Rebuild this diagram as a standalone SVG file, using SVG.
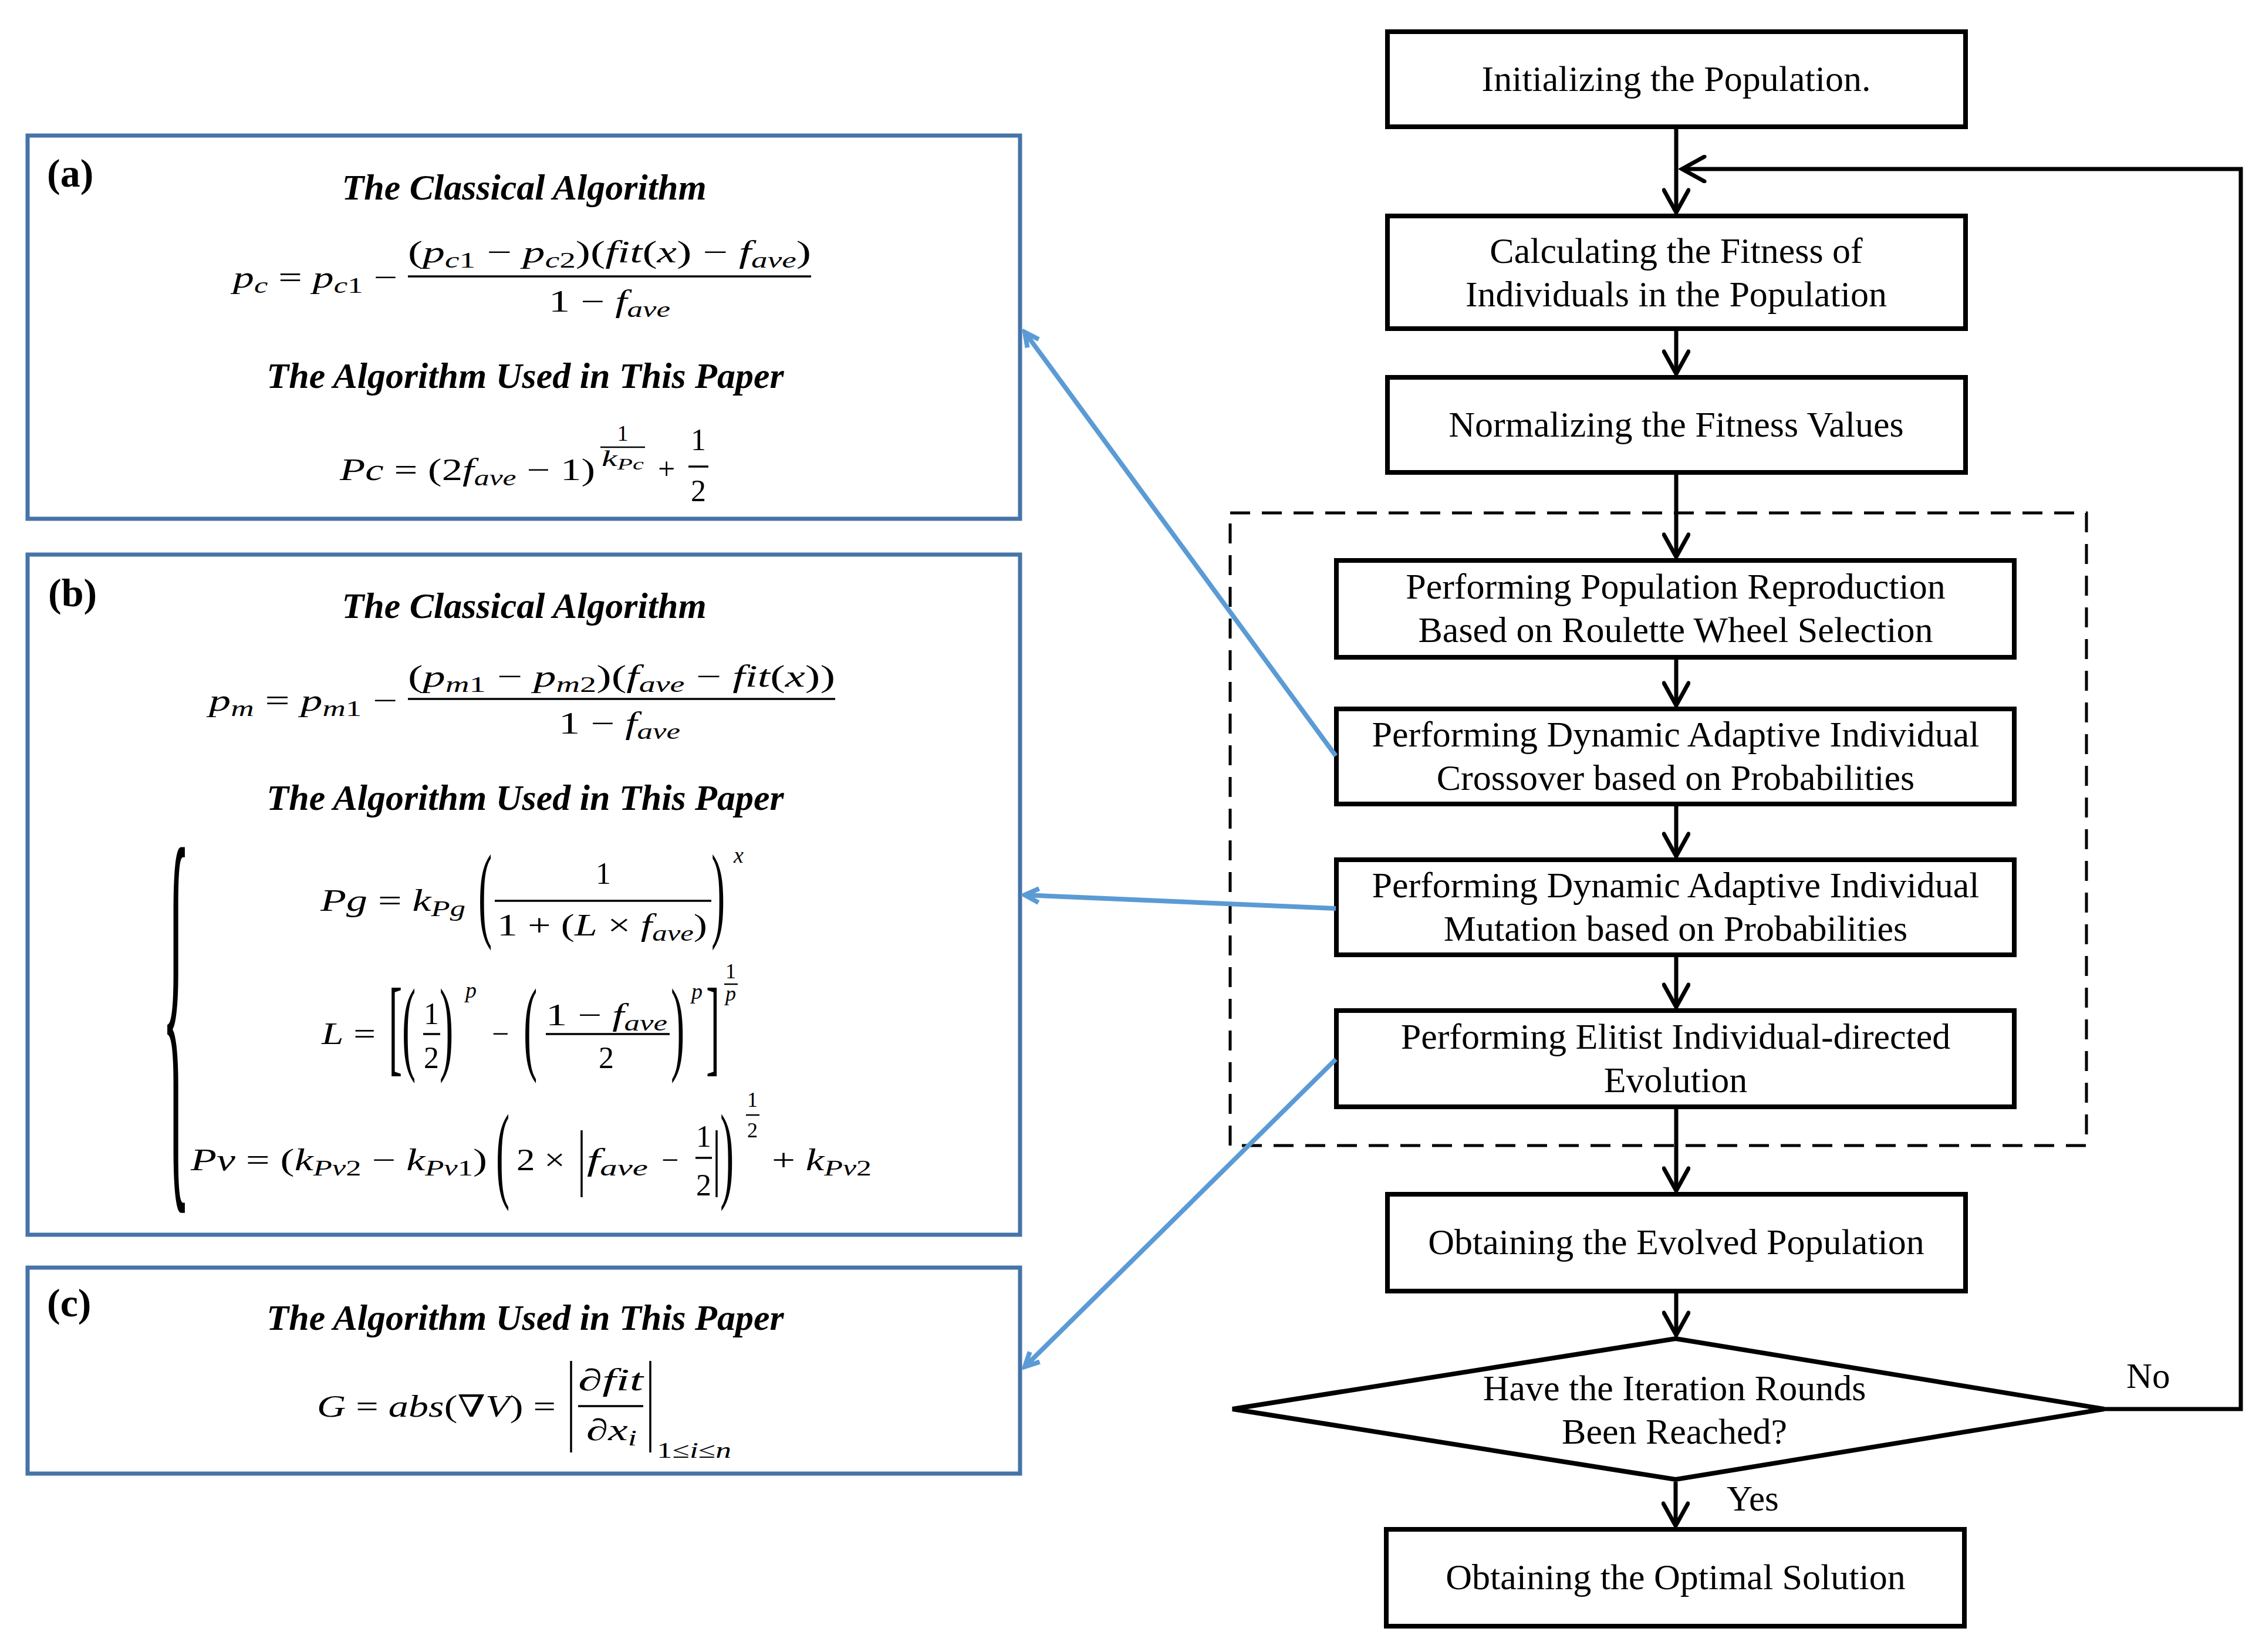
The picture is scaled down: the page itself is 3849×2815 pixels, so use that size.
<svg xmlns="http://www.w3.org/2000/svg" width="3849" height="2815" viewBox="0 0 3849 2815">
<style>
.box{fill:#fff;stroke:#000;stroke-width:8}
.pbox{fill:#fff;stroke:#4674a8;stroke-width:7}
.dash{fill:none;stroke:#000;stroke-width:5;stroke-dasharray:34 20}
.t{font-family:"Liberation Serif","Times New Roman",serif;font-size:62px;fill:#000;text-anchor:middle}
.tl{font-family:"Liberation Serif","Times New Roman",serif;font-size:61px;fill:#000}
.h{font-family:"Liberation Serif","Times New Roman",serif;font-size:62px;font-weight:bold;font-style:italic;text-anchor:middle}
.lbl{font-family:"Liberation Serif","Times New Roman",serif;font-size:68px;font-weight:bold}
.m{font-family:"Liberation Serif","DejaVu Serif",serif;font-size:52px;fill:#000}
.mc{text-anchor:middle}
.i{font-style:italic}
.s{font-size:38px}
.ss{font-size:27px}
.e{font-size:38px}
.x32{font-size:36px}
.d{font-family:"Liberation Serif","DejaVu Serif",serif;font-size:70px}
.brace{font-family:"Liberation Serif","DejaVu Serif",serif;font-size:100px}
.bar{stroke:#000;stroke-width:3.5}
.sbar{stroke:#000;stroke-width:2.5}
.c{fill:none;stroke:#000;stroke-width:7}
.bl{fill:none;stroke:#5b9bd5;stroke-width:8}
</style>
<defs>
<marker id="ah" markerUnits="userSpaceOnUse" viewBox="0 0 48 48" refX="42" refY="24" markerWidth="48" markerHeight="48" orient="auto">
<path d="M4,3 L42,24 L4,45" fill="none" stroke="#000" stroke-width="7" stroke-linecap="round"/>
</marker>
<marker id="bh" markerUnits="userSpaceOnUse" viewBox="0 0 36 36" refX="30" refY="18" markerWidth="36" markerHeight="36" orient="auto">
<path d="M6,6 L30,18 L6,30" fill="none" stroke="#5b9bd5" stroke-width="8"/>
</marker>
</defs>
<rect width="3849" height="2815" fill="#fff"/>

<g id="panel-a">
<rect class="pbox" x="47" y="231" width="1691" height="653"/>
<text class="lbl" x="80" y="318">(a)</text>
<text class="h" x="893" y="340">The Classical Algorithm</text>
<text class="m" x="397" y="490" textLength="280" lengthAdjust="spacingAndGlyphs"><tspan class="i">p</tspan><tspan class="s i" dy="9">c</tspan><tspan dy="-9"> = </tspan><tspan class="i">p</tspan><tspan class="s" dy="9"><tspan class="i">c</tspan>1</tspan><tspan dy="-9"> −</tspan></text>
<text class="m" x="695" y="447" textLength="687" lengthAdjust="spacingAndGlyphs">(<tspan class="i">p</tspan><tspan class="s" dy="9"><tspan class="i">c</tspan>1</tspan><tspan dy="-9"> − </tspan><tspan class="i">p</tspan><tspan class="s" dy="9"><tspan class="i">c</tspan>2</tspan><tspan dy="-9">)(</tspan><tspan class="i">fit</tspan>(<tspan class="i">x</tspan>) − <tspan class="i">f</tspan><tspan class="s i" dy="9">ave</tspan><tspan dy="-9">)</tspan></text>
<line class="bar" x1="695" y1="471" x2="1382" y2="471"/>
<text class="m" x="935" y="531" textLength="207" lengthAdjust="spacingAndGlyphs">1 − <tspan class="i">f</tspan><tspan class="s i" dy="9">ave</tspan></text>
<text class="h" x="895" y="661">The Algorithm Used in This Paper</text>
<text class="m" x="579" y="818" textLength="435" lengthAdjust="spacingAndGlyphs"><tspan class="i">Pc</tspan> = (2<tspan class="i">f</tspan><tspan class="s i" dy="9">ave</tspan><tspan dy="-9"> − 1)</tspan></text>
<text class="m e mc" x="1061" y="751">1</text>
<line class="sbar" x1="1023" y1="762" x2="1099" y2="762"/>
<text class="m e" x="1025" y="794" textLength="72" lengthAdjust="spacingAndGlyphs"><tspan class="i">k</tspan><tspan class="ss i" dy="6">Pc</tspan></text>
<text class="m" x="1121" y="816">+</text>
<text class="m mc" x="1190" y="767">1</text>
<line class="bar" x1="1173" y1="795" x2="1207" y2="795"/>
<text class="m mc" x="1190" y="854">2</text>
</g>

<g id="panel-b">
<rect class="pbox" x="47" y="945" width="1691" height="1159"/>
<text class="lbl" x="82" y="1033">(b)</text>
<text class="h" x="893" y="1053">The Classical Algorithm</text>
<text class="m" x="356" y="1211" textLength="321" lengthAdjust="spacingAndGlyphs"><tspan class="i">p</tspan><tspan class="s i" dy="9">m</tspan><tspan dy="-9"> = </tspan><tspan class="i">p</tspan><tspan class="s" dy="9"><tspan class="i">m</tspan>1</tspan><tspan dy="-9"> −</tspan></text>
<text class="m" x="695" y="1170" textLength="728" lengthAdjust="spacingAndGlyphs">(<tspan class="i">p</tspan><tspan class="s" dy="9"><tspan class="i">m</tspan>1</tspan><tspan dy="-9"> − </tspan><tspan class="i">p</tspan><tspan class="s" dy="9"><tspan class="i">m</tspan>2</tspan><tspan dy="-9">)(</tspan><tspan class="i">f</tspan><tspan class="s i" dy="9">ave</tspan><tspan dy="-9"> − </tspan><tspan class="i">fit</tspan>(<tspan class="i">x</tspan>))</text>
<line class="bar" x1="695" y1="1191" x2="1423" y2="1191"/>
<text class="m" x="952" y="1250" textLength="207" lengthAdjust="spacingAndGlyphs">1 − <tspan class="i">f</tspan><tspan class="s i" dy="9">ave</tspan></text>
<text class="h" x="895" y="1380">The Algorithm Used in This Paper</text>
<text class="brace" transform="translate(276,1966) scale(1,7.53)">{</text>
<text class="m" x="546" y="1552" textLength="247" lengthAdjust="spacingAndGlyphs"><tspan class="i">Pg</tspan> = <tspan class="i">k</tspan><tspan class="s i" dy="9">Pg</tspan></text>
<text class="d" transform="translate(815,1581) scale(1,2.56)">(</text>
<text class="m mc" x="1028" y="1506">1</text>
<line class="bar" x1="843" y1="1535" x2="1212" y2="1535"/>
<text class="m" x="847" y="1594" textLength="358" lengthAdjust="spacingAndGlyphs">1 + (<tspan class="i">L</tspan> × <tspan class="i">f</tspan><tspan class="s i" dy="9">ave</tspan><tspan dy="-9">)</tspan></text>
<text class="d" transform="translate(1212,1581) scale(1,2.56)">)</text>
<text class="m e i" x="1250" y="1470">x</text>
<text class="m" x="548" y="1779" textLength="92" lengthAdjust="spacingAndGlyphs"><tspan class="i">L</tspan> =</text>
<text class="d" transform="translate(662,1810) scale(1,2.6)">[</text>
<text class="d" transform="translate(685,1808) scale(1,2.55)">(</text>
<text class="m mc" x="735" y="1745">1</text>
<line class="bar" x1="721" y1="1762" x2="750" y2="1762"/>
<text class="m mc" x="735" y="1820">2</text>
<text class="d" transform="translate(749,1808) scale(1,2.55)">)</text>
<text class="m e i" x="793" y="1700">p</text>
<text class="m" x="838" y="1779">−</text>
<text class="d" transform="translate(892,1808) scale(1,2.55)">(</text>
<text class="m" x="930" y="1747" textLength="207" lengthAdjust="spacingAndGlyphs">1 − <tspan class="i">f</tspan><tspan class="s i" dy="9">ave</tspan></text>
<line class="bar" x1="930" y1="1762" x2="1141" y2="1762"/>
<text class="m mc" x="1033" y="1820">2</text>
<text class="d" transform="translate(1143,1808) scale(1,2.55)">)</text>
<text class="m e i" x="1178" y="1702">p</text>
<text class="d" transform="translate(1203,1810) scale(1,2.6)">]</text>
<text class="m mc x32" x="1245" y="1667">1</text>
<line class="sbar" x1="1234" y1="1677" x2="1257" y2="1677"/>
<text class="m mc i x32" x="1245" y="1705">p</text>
<text class="m" x="325" y="1994" textLength="505" lengthAdjust="spacingAndGlyphs"><tspan class="i">Pv</tspan> = (<tspan class="i">k</tspan><tspan class="s i" dy="9">Pv</tspan><tspan class="s">2</tspan><tspan dy="-9"> − </tspan><tspan class="i">k</tspan><tspan class="s i" dy="9">Pv</tspan><tspan class="s">1</tspan><tspan dy="-9">)</tspan></text>
<text class="d" transform="translate(845,2025) scale(1,2.6)">(</text>
<text class="m" x="880" y="1994" textLength="83" lengthAdjust="spacingAndGlyphs">2 ×</text>
<line class="bar" x1="991" y1="1926" x2="991" y2="2040"/>
<text class="m" x="1000" y="1994" textLength="104" lengthAdjust="spacingAndGlyphs"><tspan class="i">f</tspan><tspan class="s i" dy="9">ave</tspan></text>
<text class="m" x="1127" y="1994">−</text>
<text class="m mc" x="1199" y="1954">1</text>
<line class="bar" x1="1185" y1="1973" x2="1213" y2="1973"/>
<text class="m mc" x="1199" y="2037">2</text>
<line class="bar" x1="1221" y1="1926" x2="1221" y2="2040"/>
<text class="d" transform="translate(1227,2025) scale(1,2.6)">)</text>
<text class="m mc x32" x="1282" y="1886">1</text>
<line class="sbar" x1="1271" y1="1900" x2="1294" y2="1900"/>
<text class="m mc x32" x="1282" y="1938">2</text>
<text class="m" x="1315" y="1994" textLength="170" lengthAdjust="spacingAndGlyphs">+ <tspan class="i">k</tspan><tspan class="s i" dy="9">Pv</tspan><tspan class="s">2</tspan></text>
</g>

<g id="panel-c">
<rect class="pbox" x="47" y="2160" width="1691" height="351"/>
<text class="lbl" x="80" y="2243">(c)</text>
<text class="h" x="895" y="2266">The Algorithm Used in This Paper</text>
<text class="m" x="540" y="2414" textLength="407" lengthAdjust="spacingAndGlyphs"><tspan class="i">G</tspan> = <tspan class="i">abs</tspan>(∇<tspan class="i">V</tspan>) =</text>
<line class="bar" x1="973" y1="2319" x2="973" y2="2475"/>
<text class="m" x="985" y="2369" textLength="111" lengthAdjust="spacingAndGlyphs">∂<tspan class="i">fit</tspan></text>
<line class="bar" x1="985" y1="2396" x2="1096" y2="2396"/>
<text class="m" x="999" y="2454" textLength="86" lengthAdjust="spacingAndGlyphs">∂<tspan class="i">x</tspan><tspan class="s i" dy="9">i</tspan></text>
<line class="bar" x1="1108" y1="2319" x2="1108" y2="2475"/>
<text class="m e" x="1119" y="2484" textLength="127" lengthAdjust="spacingAndGlyphs">1≤<tspan class="i">i</tspan>≤<tspan class="i">n</tspan></text>
</g>

<g id="n1"><rect class="box" x="2364" y="54" width="985" height="162"/><text class="t" x="2856" y="155">Initializing the  Population.</text></g>
<g id="n2"><rect class="box" x="2364" y="368" width="985" height="192"/><text class="t" x="2856" y="448">Calculating the Fitness of</text><text class="t" x="2856" y="522">Individuals in the Population</text></g>
<g id="n3"><rect class="box" x="2364" y="643" width="985" height="162"/><text class="t" x="2856" y="744">Normalizing the Fitness Values</text></g>
<g id="group-dashed"><rect class="dash" x="2096" y="874" width="1459" height="1078"/></g>
<g id="n4"><rect class="box" x="2277" y="955" width="1155" height="165"/><text class="t" x="2855" y="1020">Performing Population Reproduction</text><text class="t" x="2855" y="1094">Based on Roulette Wheel Selection</text></g>
<g id="n5"><rect class="box" x="2277" y="1208" width="1155" height="162"/><text class="t" x="2855" y="1272">Performing Dynamic Adaptive Individual</text><text class="t" x="2855" y="1346">Crossover based on Probabilities</text></g>
<g id="n6"><rect class="box" x="2277" y="1465" width="1155" height="162"/><text class="t" x="2855" y="1529">Performing Dynamic Adaptive Individual</text><text class="t" x="2855" y="1603">Mutation based on Probabilities</text></g>
<g id="n7"><rect class="box" x="2277" y="1722" width="1155" height="164"/><text class="t" x="2855" y="1787">Performing Elitist Individual-directed</text><text class="t" x="2855" y="1861">Evolution</text></g>
<g id="n8"><rect class="box" x="2364" y="2035" width="985" height="165"/><text class="t" x="2856" y="2137">Obtaining the Evolved Population</text></g>
<g id="n9"><polygon class="box" points="2100,2401 2855,2281 3585,2401 2855,2521"/><text class="t" x="2853" y="2386">Have the Iteration Rounds</text><text class="t" x="2853" y="2460">Been Reached?</text></g>
<g id="n10"><rect class="box" x="2362" y="2606" width="985" height="165"/><text class="t" x="2855" y="2708">Obtaining the Optimal Solution</text></g>

<g id="connectors">
<line class="c" x1="2856" y1="220" x2="2856" y2="362" marker-end="url(#ah)"/>
<line class="c" x1="2856" y1="564" x2="2856" y2="637" marker-end="url(#ah)"/>
<line class="c" x1="2856" y1="809" x2="2856" y2="949" marker-end="url(#ah)"/>
<line class="c" x1="2856" y1="1124" x2="2856" y2="1202" marker-end="url(#ah)"/>
<line class="c" x1="2856" y1="1374" x2="2856" y2="1459" marker-end="url(#ah)"/>
<line class="c" x1="2856" y1="1631" x2="2856" y2="1716" marker-end="url(#ah)"/>
<line class="c" x1="2856" y1="1890" x2="2856" y2="2029" marker-end="url(#ah)"/>
<line class="c" x1="2856" y1="2204" x2="2856" y2="2275" marker-end="url(#ah)"/>
<line class="c" x1="2855" y1="2525" x2="2855" y2="2600" marker-end="url(#ah)"/>
<polyline class="c" points="3585,2401 3818,2401 3818,288 2866,288" marker-end="url(#ah)"/>
<text class="tl" x="3623" y="2365">No</text>
<text class="tl" x="2942" y="2574">Yes</text>
<line class="bl" x1="2276" y1="1288" x2="1746" y2="566" marker-end="url(#bh)"/>
<line class="bl" x1="2276" y1="1548" x2="1746" y2="1525" marker-end="url(#bh)"/>
<line class="bl" x1="2276" y1="1805" x2="1746" y2="2329" marker-end="url(#bh)"/>
</g>
</svg>
